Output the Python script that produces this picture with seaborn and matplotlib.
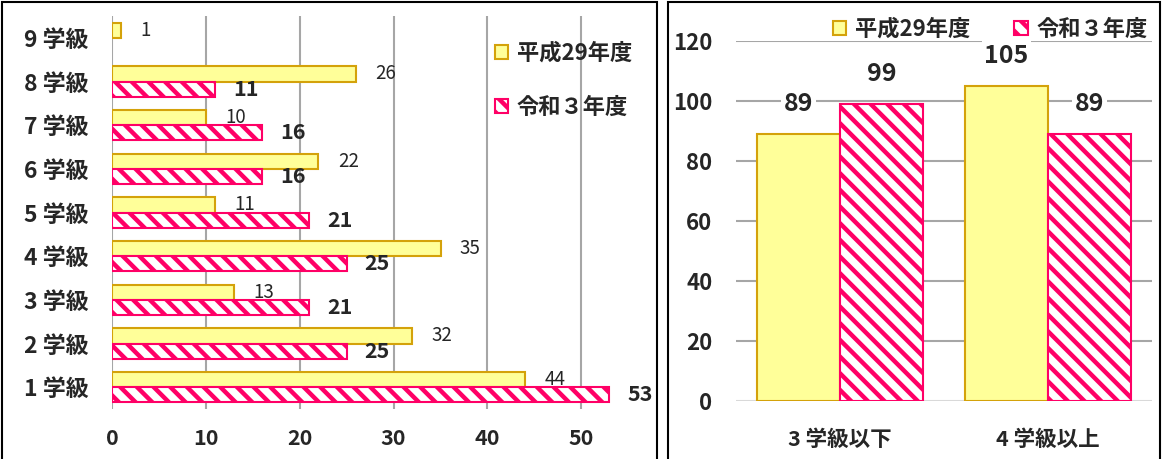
import matplotlib
matplotlib.use("Agg")
import matplotlib.pyplot as plt
import seaborn as sns
import pandas as pd
from matplotlib.patches import Rectangle

# data
classes = ["9 学級", "8 学級", "7 学級", "6 学級", "5 学級", "4 学級", "3 学級", "2 学級", "1 学級"]
h29_counts = [1, 26, 10, 22, 11, 35, 13, 32, 44]
r3_counts = [0, 11, 16, 16, 21, 25, 21, 25, 53]

groups = ["3 学級以下", "4 学級以上"]
h29_groups = [89, 105]
r3_groups = [99, 89]

years = ["平成29年度", "令和３年度"]

YELLOW = "#FFFF99"
GOLD = "#D4A20A"
PINK = "#FF0066"
GRID = "#A6A6A6"
HATCH = "\\\\"


def style_bars(ax):
    # first hue -> plain yellow, second hue -> pink hatched
    c_h29, c_r3 = ax.containers[0], ax.containers[1]
    for p in c_h29:
        p.set_facecolor(YELLOW)
        p.set_edgecolor(GOLD)
        p.set_linewidth(1.5)
    for p in c_r3:
        p.set_facecolor("white")
        p.set_edgecolor(PINK)
        p.set_hatch(HATCH)
        p.set_linewidth(1.5)
    return c_h29, c_r3


def legend_handles():
    h1 = Rectangle((0, 0), 1, 1, facecolor=YELLOW, edgecolor=GOLD, linewidth=1.5)
    h2 = Rectangle((0, 0), 1, 1, facecolor="white", edgecolor=PINK, hatch=HATCH, linewidth=1.5)
    return [h1, h2]


def plot_left(fig):
    df = pd.DataFrame({
        "class": classes * 2,
        "count": h29_counts + r3_counts,
        "year": [years[0]] * len(classes) + [years[1]] * len(classes),
    })
    ax = fig.add_axes([112 / 1162, 50 / 459, 535 / 1162, 393 / 459])
    sns.barplot(data=df, y="class", x="count", hue="year", hue_order=years,
                order=classes, orient="h", width=0.7, ax=ax, legend=False,
                saturation=1)
    c_h29, c_r3 = style_bars(ax)
    # 9学級 has no 令和3年度 bar
    for p, v in zip(c_r3, r3_counts):
        if v == 0:
            p.set_visible(False)

    labels2 = [str(v) if v > 0 else "" for v in r3_counts]
    ax.bar_label(c_h29, padding=14, fontsize=13.5)
    ax.bar_label(c_r3, labels=labels2, padding=13, fontsize=15.5, fontweight="bold")

    ax.set_xlim(0, 57)
    ax.set_ylim(8.5, -0.5)
    ax.set_xticks([0, 10, 20, 30, 40, 50])
    ax.tick_params(axis="x", length=0, pad=14, labelsize=15.5)
    ax.tick_params(axis="y", length=0, pad=17, labelsize=16.5)
    for t in ax.get_xticklabels() + ax.get_yticklabels():
        t.set_fontweight("bold")
    ax.set_xlabel("")
    ax.set_ylabel("")
    for s in ax.spines.values():
        s.set_visible(False)
    for x in [0, 10, 20, 30, 40, 50]:
        ax.axvline(x, color=GRID, linewidth=1.5, zorder=0)
    ax.legend(legend_handles(), years, loc="upper left", bbox_to_anchor=(0.715, 0.935),
              frameon=False, labelspacing=1.4, handlelength=0.6,
              handleheight=0.6, handletextpad=0.4, borderpad=0, borderaxespad=0,
              prop={"family": ["Noto Sans CJK JP"], "weight": "bold", "size": 16})
    return ax


def plot_right(fig):
    df = pd.DataFrame({
        "group": groups * 2,
        "count": h29_groups + r3_groups,
        "year": [years[0]] * len(groups) + [years[1]] * len(groups),
    })
    ax = fig.add_axes([736 / 1162, 58 / 459, 416 / 1162, 360 / 459])
    sns.barplot(data=df, x="group", y="count", hue="year", hue_order=years,
                order=groups, width=0.8, ax=ax, legend=False, saturation=1)
    c_h29, c_r3 = style_bars(ax)
    for c in (c_h29, c_r3):
        for txt in ax.bar_label(c, padding=13, fontsize=18, fontweight="bold"):
            txt.set_bbox(dict(facecolor="white", edgecolor="none", pad=2))

    ax.set_ylim(0, 120)
    ax.set_xlim(-0.5, 1.5)
    ax.set_yticks([0, 20, 40, 60, 80, 100, 120])
    ax.tick_params(axis="y", length=0, pad=17, labelsize=16)
    ax.tick_params(axis="x", length=0, pad=20, labelsize=15.5)
    for t in ax.get_xticklabels() + ax.get_yticklabels():
        t.set_fontweight("bold")
    ax.set_xlabel("")
    ax.set_ylabel("")
    for s in ax.spines.values():
        s.set_visible(False)
    for y in [20, 40, 60, 80, 100, 120]:
        ax.axhline(y, color=GRID, linewidth=1.5, zorder=0)
    ax.axhline(0, color="#D9D9D9", linewidth=1.5, zorder=0)
    ax.legend(legend_handles(), years, loc="lower left", bbox_to_anchor=(0.232, 1.0),
              ncol=2, frameon=False, columnspacing=2.0, handlelength=0.6,
              handleheight=0.6, handletextpad=0.4, borderaxespad=0, borderpad=0,
              prop={"family": ["Noto Sans CJK JP"], "weight": "bold", "size": 16})
    return ax


def main():
    sns.set_style("white")
    plt.rcParams["font.family"] = ["Noto Sans CJK JP", "DejaVu Sans"]
    plt.rcParams["hatch.linewidth"] = 3.2
    fig = plt.figure(figsize=(11.62, 4.59), dpi=100)

    plot_left(fig)
    plot_right(fig)

    # panel frames
    fig.patches.append(Rectangle((2 / 1162, -0.05), 655 / 1162, 1.05 - 2 / 459,
                                 transform=fig.transFigure, fill=False,
                                 edgecolor="black", linewidth=1.5))
    fig.patches.append(Rectangle((668 / 1162, -0.05), 492 / 1162, 1.05 - 2 / 459,
                                 transform=fig.transFigure, fill=False,
                                 edgecolor="black", linewidth=1.5))

    fig.savefig("out.png", dpi=100)


if __name__ == "__main__":
    main()
